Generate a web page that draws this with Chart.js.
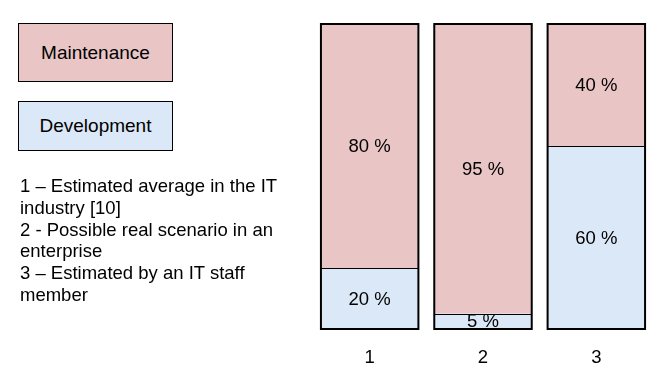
<!DOCTYPE html>
<html>
<head>
<meta charset="utf-8">
<script src="https://cdn.jsdelivr.net/npm/chart.js@4"></script>
<style>
  html, body { margin: 0; padding: 0; background: #fff; }
  #wrap { position: relative; width: 672px; height: 378px; font-family: 'Liberation Sans', Arial, sans-serif; }
  #c { position: absolute; left: 0; top: 0; }
  .lg { position: absolute; left: 18px; width: 155px; border: 1px solid #000; box-sizing: border-box;
        display: flex; align-items: center; justify-content: center; font-size: 19px; color: #000; }
  #notes { position: absolute; left: 20px; top: 175px; width: 272px; font-size: 18.5px; line-height: 21.8px; color: #000; }
</style>
</head>
<body>
<div id="wrap">
  <canvas id="c" width="672" height="378"></canvas>
  <div id="legend"></div>
  <div id="notes"></div>
</div>
<script>
const categories = ['1', '2', '3'];
const maintenance = [80, 95, 40];
const development = [20, 5, 60];
const seriesNames = ['Maintenance', 'Development'];
const notes = [
  '1 \u2013 Estimated average in the IT industry [10]',
  '2 - Possible real scenario in an enterprise',
  '3 \u2013 Estimated by an IT staff member'
];

const pink = '#e9c5c6';
const blue = '#dbe8f7';
const fontFamily = '"Liberation Sans", Arial, sans-serif';

// labels in the middle of each segment + black outline round each bar
const barDecor = {
  id: 'barDecor',
  afterDatasetsDraw(chart) {
    const ctx = chart.ctx;
    const y = chart.scales.y;
    ctx.save();
    chart.data.datasets.forEach((ds, di) => {
      const meta = chart.getDatasetMeta(di);
      meta.data.forEach((bar, i) => {
        ctx.fillStyle = '#000';
        ctx.font = '18.5px ' + fontFamily;
        ctx.textAlign = 'center';
        ctx.textBaseline = 'middle';
        ctx.fillText(ds.data[i] + ' %', bar.x, (bar.y + bar.base) / 2 + 1);
      });
    });
    // split line between development (bottom) and maintenance (top)
    const dev = chart.getDatasetMeta(0);
    ctx.strokeStyle = '#000';
    ctx.lineWidth = 1;
    dev.data.forEach((bar) => {
      const half = bar.width / 2;
      ctx.beginPath();
      ctx.moveTo(bar.x - half, Math.round(bar.y) + 0.5);
      ctx.lineTo(bar.x + half, Math.round(bar.y) + 0.5);
      ctx.stroke();
    });
    // outer frame
    ctx.lineWidth = 2;
    dev.data.forEach((bar) => {
      const half = bar.width / 2;
      const yTop = y.getPixelForValue(100);
      const yBot = y.getPixelForValue(0);
      ctx.strokeRect(bar.x - half, yTop, bar.width, yBot - yTop);
    });
    ctx.restore();
  }
};

const chart = new Chart(document.getElementById('c'), {
  type: 'bar',
  data: {
    labels: categories,
    datasets: [
      { label: seriesNames[1], data: development, backgroundColor: blue, borderWidth: 0, stack: 's' },
      { label: seriesNames[0], data: maintenance, backgroundColor: pink, borderWidth: 0, stack: 's' }
    ]
  },
  options: {
    responsive: false,
    animation: false,
    layout: { padding: { left: 313, right: 19, top: 24, bottom: 0 } },
    datasets: { bar: { barPercentage: 0.86, categoryPercentage: 1 } },
    plugins: { legend: { display: false }, tooltip: { enabled: false } },
    scales: {
      x: {
        stacked: true,
        grid: { display: false, drawTicks: false },
        border: { display: false },
        ticks: { color: '#000', font: { size: 18.5, family: fontFamily }, padding: 18 },
        afterFit(axis) { axis.height = 49; }
      },
      y: {
        stacked: true,
        display: false,
        min: 0,
        max: 100
      }
    }
  },
  plugins: [barDecor]
});

// legend boxes, top one first
const legendBoxes = [
  { top: 23, height: 59, color: pink },
  { top: 101, height: 50, color: blue }
];
const legend = document.getElementById('legend');
[1, 0].forEach((di, i) => {
  const ds = chart.data.datasets[di];
  const d = document.createElement('div');
  d.className = 'lg';
  d.style.top = legendBoxes[i].top + 'px';
  d.style.height = legendBoxes[i].height + 'px';
  d.style.background = ds.backgroundColor;
  d.textContent = ds.label;
  legend.appendChild(d);
});

document.getElementById('notes').innerHTML = notes.join('<br>');
</script>
</body>
</html>
